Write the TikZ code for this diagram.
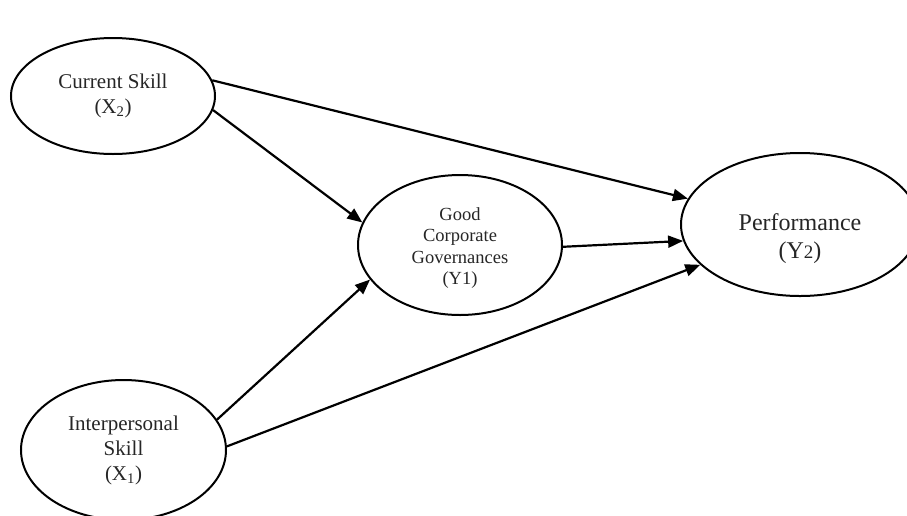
\documentclass[tikz,border=0pt]{standalone}
\usepackage{fontspec}
\setmainfont{Liberation Serif}
\usetikzlibrary{shapes.geometric,arrows.meta}
\tikzset{
  var/.style={ellipse,draw=black,line width=2pt,inner sep=0pt,align=center,text=black!85},
  lbl/.style={align=center,inner sep=0pt,text=black!85},
  conn/.style={line width=2.2pt,-{Triangle[length=15pt,width=12pt]}},
}
\begin{document}
\begin{tikzpicture}[x=1pt,y=-1pt]
\useasboundingbox (0,0) rectangle (907,515);
\clip (0,0) rectangle (907,515);
\node[var,minimum width=204pt,minimum height=116pt,font=\fontsize{21}{25}\selectfont] (cs) at (113,96) {Current Skill\\(X\textsubscript{2})};
\node[var,minimum width=204pt,minimum height=140pt] (gcg) at (460,245) {};
\node[lbl,font=\fontsize{18.5}{21.5}\selectfont] (gcgt) at (460,248) {Good\\Corporate\\Governances\\(Y1)};
\node[var,minimum width=238pt,minimum height=143pt] (perf) at (800,224.5) {};
\node[lbl,font=\fontsize{24}{28}\selectfont] (perft) at (800,239) {Performance\\(Y{\fontsize{19}{19}\selectfont 2})};
\node[var,minimum width=205pt,minimum height=140pt,font=\fontsize{21}{25}\selectfont] (is) at (123.5,450) {Interpersonal\\Skill\\(X\textsubscript{1})};
\draw[conn] (cs.9.5) -- (perf.167.5);
\draw[conn] (cs.-8.3) -- (gcg.167.4);
\draw[conn] (gcg.-1) -- (perf.188.6);
\draw[conn] (is.18.5) -- (gcg.201.7);
\draw[conn] (is.2.8) -- (perf.202.4);
\end{tikzpicture}
\end{document}
